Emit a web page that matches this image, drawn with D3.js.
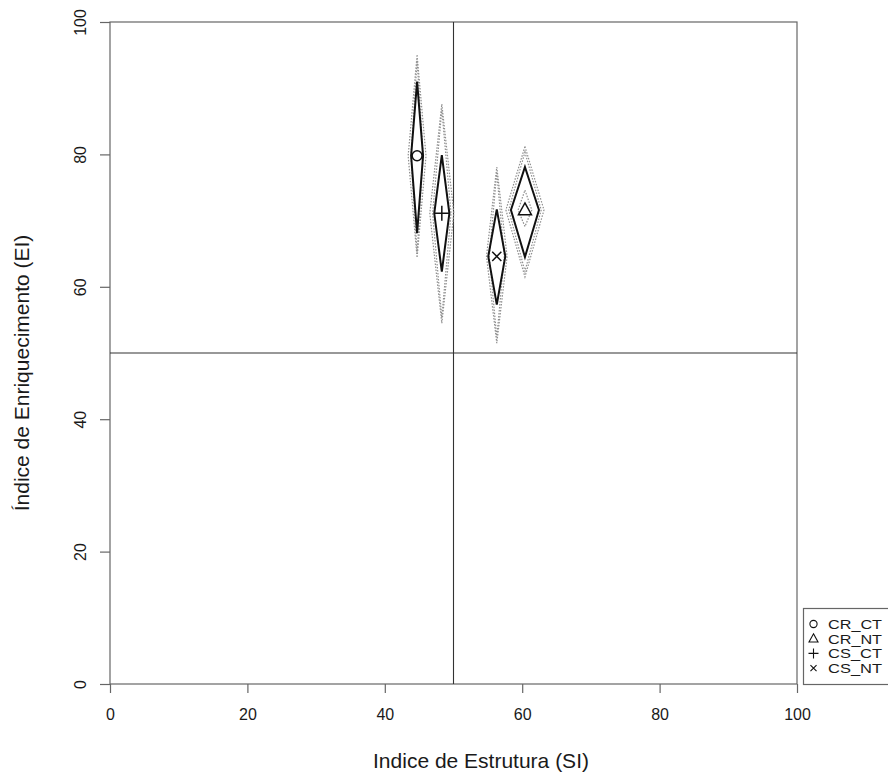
<!DOCTYPE html>
<html>
<head>
<meta charset="utf-8">
<script src="https://cdn.jsdelivr.net/npm/d3@7"></script>
<style>
  html, body { margin: 0; padding: 0; background: #fff; }
  svg { display: block; font-family: "Liberation Sans", Arial, Helvetica, sans-serif; }
</style>
</head>
<body>
<svg id="chart" width="888" height="776"></svg>
<script>
// ---- data ----
const groups = ["CR_CT", "CR_NT", "CS_CT", "CS_NT"];
const symbols = ["circle", "triangle", "plus", "cross"];
const siMean = [44.7, 60.4, 48.3, 56.3];
const eiMean = [79.8, 71.6, 71.1, 64.6];
// solid diamond
const solidHalfSI = [0.87, 2.04, 1.1, 1.24];
const solidTopEI = [91.0, 78.1, 79.9, 71.7];
const solidBottomEI = [68.1, 64.5, 62.3, 57.3];
// outer dotted diamond
const outerHalfSI = [1.3, 2.77, 1.75, 1.5];
const outerTopEI = [95.0, 81.2, 87.6, 78.1];
const outerBottomEI = [64.4, 61.5, 54.5, 51.5];
// inner dotted diamond (visible only for CR_NT)
const innerHalfSI = [null, 1.0, null, null];
const innerTopEI = [null, 74.6, null, null];
const innerBottomEI = [null, 69.1, null, null];
const xTicks = [0, 20, 40, 60, 80, 100];
const yTicks = [0, 20, 40, 60, 80, 100];
const refSI = 50, refEI = 50;
const xLabel = "Indice de Estrutura (SI)";
const yLabel = "Índice de Enriquecimento (EI)";

// ---- scales ----
const svg = d3.select("#chart");
const x = d3.scaleLinear().domain([0, 100]).range([110, 797]);
const y = d3.scaleLinear().domain([0, 100]).range([684, 22]);

const textColor = "#1a1a1a";

// box
svg.append("rect")
  .attr("x", x(0)).attr("y", y(100))
  .attr("width", x(100) - x(0)).attr("height", y(0) - y(100))
  .attr("fill", "none").attr("stroke", "#666").attr("stroke-width", 1.2);

// axes
const xAxis = svg.append("g").attr("transform", `translate(0,${y(0)})`)
  .call(d3.axisBottom(x).tickValues(xTicks).tickSize(9).tickPadding(15.5).tickFormat(d3.format("d")));
xAxis.select(".domain").remove();
xAxis.selectAll("line").attr("stroke", "#666").attr("stroke-width", 1.2);
xAxis.selectAll("text").attr("font-size", 16).attr("fill", textColor)
  .attr("font-family", "Liberation Sans, Arial, sans-serif");

const yAxis = svg.append("g").attr("transform", `translate(${x(0)},0)`)
  .call(d3.axisLeft(y).tickValues(yTicks).tickSize(10).tickFormat(d3.format("d")));
yAxis.select(".domain").remove();
yAxis.selectAll("line").attr("stroke", "#666").attr("stroke-width", 1.2);
yAxis.selectAll("text")
  .attr("x", 0).attr("dy", null)
  .attr("transform", "translate(-24,0) rotate(-90)")
  .attr("text-anchor", "middle")
  .attr("font-size", 16).attr("fill", textColor)
  .attr("font-family", "Liberation Sans, Arial, sans-serif");

// reference lines
svg.append("line").attr("x1", x(refSI)).attr("x2", x(refSI)).attr("y1", y(0)).attr("y2", y(100))
  .attr("stroke", "#333").attr("stroke-width", 1.1);
svg.append("line").attr("x1", x(0)).attr("x2", x(100)).attr("y1", y(refEI)).attr("y2", y(refEI))
  .attr("stroke", "#333").attr("stroke-width", 1.1);

// axis labels
svg.append("text").attr("x", 481).attr("y", 768).attr("text-anchor", "middle")
  .attr("font-size", 21).attr("fill", textColor).text(xLabel);
svg.append("text").attr("transform", "translate(29,373) rotate(-90)").attr("text-anchor", "middle")
  .attr("font-size", 21).attr("fill", textColor).text(yLabel);

// diamonds
function diamond(cx, hw, top, bottom, cy, shrinkPx) {
  const s = shrinkPx || 0;
  const X = x(cx), Y = y(cy);
  const L = x(cx - hw) + s, R = x(cx + hw) - s;
  const T = y(top) + s * 2, B = y(bottom) - s * 2;
  return `M${X},${T}L${R},${Y}L${X},${B}L${L},${Y}Z`;
}
const marks = svg.append("g");
groups.forEach((g, i) => {
  // outer dotted (double)
  [0, 2.8].forEach(s => {
    marks.append("path")
      .attr("d", diamond(siMean[i], outerHalfSI[i], outerTopEI[i], outerBottomEI[i], eiMean[i], s))
      .attr("fill", "none").attr("stroke", "#8f8f8f").attr("stroke-width", 1.2)
      .attr("stroke-dasharray", "1.5,1.5");
  });
  if (innerHalfSI[i] != null) {
    marks.append("path")
      .attr("d", diamond(siMean[i], innerHalfSI[i], innerTopEI[i], innerBottomEI[i], eiMean[i], 0))
      .attr("fill", "none").attr("stroke", "#8f8f8f").attr("stroke-width", 1.2)
      .attr("stroke-dasharray", "1.5,1.5");
  }
  marks.append("path")
    .attr("d", diamond(siMean[i], solidHalfSI[i], solidTopEI[i], solidBottomEI[i], eiMean[i], 0))
    .attr("fill", "none").attr("stroke", "#111").attr("stroke-width", 2)
    .attr("stroke-linejoin", "miter");
});

function drawSymbol(sel, type, cx, cy, size) {
  const st = { fill: "none", stroke: "#111", "stroke-width": 1.5 };
  let el;
  if (type === "circle") {
    el = sel.append("circle").attr("cx", cx).attr("cy", cy).attr("r", size * 0.45);
  } else if (type === "triangle") {
    const h = size * 0.9, w = size;
    el = sel.append("path").attr("d",
      `M${cx},${cy - h * 0.6}L${cx + w / 2},${cy + h * 0.4}L${cx - w / 2},${cy + h * 0.4}Z`);
  } else if (type === "plus") {
    const r = size / 2;
    el = sel.append("path").attr("d", `M${cx - r},${cy}L${cx + r},${cy}M${cx},${cy - r}L${cx},${cy + r}`);
  } else {
    const r = size * 0.38;
    el = sel.append("path").attr("d", `M${cx - r},${cy - r}L${cx + r},${cy + r}M${cx - r},${cy + r}L${cx + r},${cy - r}`);
  }
  Object.entries(st).forEach(([k, v]) => el.attr(k, v));
}
const symSize = [11, 13, 15, 12];
groups.forEach((g, i) => {
  drawSymbol(marks, symbols[i], x(siMean[i]), y(eiMean[i]), symSize[i]);
});

// legend
const leg = svg.append("g");
leg.append("rect").attr("x", 803.5).attr("y", 608.5).attr("width", 110).attr("height", 76)
  .attr("fill", "#fff").attr("stroke", "#666").attr("stroke-width", 1.2);
groups.forEach((g, i) => {
  const cy = 624 + i * 14.7;
  const ls = leg.append("g");
  drawSymbol(ls, symbols[i], 813.5, cy, [8, 9, 10, 8][i]);
  ls.selectAll("*").attr("stroke-width", 1.1);
  leg.append("text").attr("x", 828).attr("y", cy + 4.8)
    .attr("font-size", 13.5).attr("fill", textColor)
    .attr("textLength", 54).attr("lengthAdjust", "spacingAndGlyphs")
    .text(g);
});
</script>
</body>
</html>
